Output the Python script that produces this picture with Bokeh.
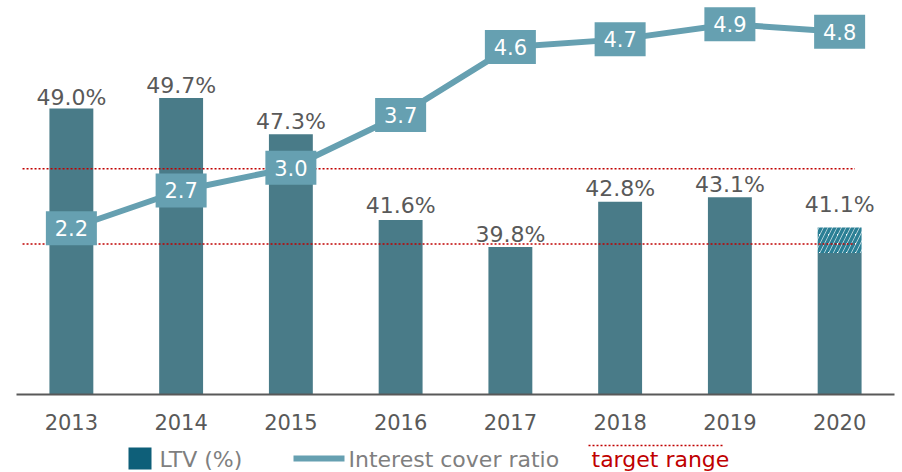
from bokeh.plotting import figure
from bokeh.models import ColumnDataSource, Range1d, FixedTicker
from bokeh.layouts import column
from bokeh.core.properties import value
from bokeh.embed import file_html
from bokeh.resources import INLINE

# ---- data ----
years = ["2013", "2014", "2015", "2016", "2017", "2018", "2019", "2020"]
ltv = [49.0, 49.7, 47.3, 41.6, 39.8, 42.8, 43.1, 41.1]          # LTV (%) labels / bar totals
ltv_solid = [49.0, 49.7, 47.3, 41.6, 39.8, 42.8, 43.1, 39.4]    # solid part of the bars
icr = [2.2, 2.7, 3.0, 3.7, 4.6, 4.7, 4.9, 4.8]                  # interest cover ratio
target_range = [40.0, 45.0]

FONT = value("DejaVu Sans")
BAR = "#497b88"
LINE = "#66a0b1"
GREY = "#595959"
RED = "#c00000"

idx = list(range(len(years)))
src = ColumnDataSource(dict(
    x=idx, ltv=ltv, solid=ltv_solid, icr=icr,
    ltv_lbl=[f"{v:.1f}%" for v in ltv],
    icr_lbl=[f"{v:.1f}" for v in icr],
    lbl_off=[-11, -13, -13, -14, -13, -13, -13, -23],
))

FH = 394
p = figure(frame_width=878, frame_height=FH, output_backend="svg",
           toolbar_location=None, x_range=Range1d(-0.5, 7.5),
           y_range=Range1d(30, 30 + FH / 15.05),
           min_border_left=16, min_border_right=8, min_border_top=0,
           min_border_bottom=42)
p.extra_y_ranges = {"icr": Range1d(0, FH / 75.56)}
p.outline_line_color = None
p.xgrid.visible = False
p.ygrid.visible = False
p.yaxis.visible = False
p.background_fill_color = "white"

xa = p.xaxis[0]
xa.ticker = FixedTicker(ticks=idx)
xa.major_label_overrides = {i: y for i, y in zip(idx, years)}
xa.axis_line_color = GREY
xa.axis_line_width = 2
xa.major_tick_line_color = None
xa.minor_tick_line_color = None
xa.major_label_text_font = "DejaVu Sans"
xa.major_label_text_font_size = "21px"
xa.major_label_text_color = GREY
xa.major_label_standoff = 13

# bars
p.vbar(x="x", bottom=30, top="solid", width=0.4, source=src,
       fill_color=BAR, line_color=None)
# hatched (2020 extra)
hsrc = ColumnDataSource(dict(x=[idx[-1]], b=[ltv_solid[-1]], t=[ltv[-1]]))
p.vbar(x="x", bottom="b", top="t", width=0.4, source=hsrc,
       fill_color="white", line_color=None, hatch_pattern="/",
       hatch_color="#2b7f95", hatch_weight=3.5, hatch_scale=9)

# ICR line
p.line(x="x", y="icr", source=src, y_range_name="icr",
       line_color=LINE, line_width=6)

# target range lines
for t in target_range:
    p.line(x=[-0.445, 7.14], y=[t, t], line_color=RED, line_width=1.5,
           line_dash="2 2")

# ICR boxes + labels
p.rect(x="x", y="icr", width=51, height=34, width_units="screen",
       height_units="screen", source=src, y_range_name="icr",
       fill_color=LINE, line_color=None)
p.text(x="x", y="icr", text="icr_lbl", source=src, y_range_name="icr",
       text_font=FONT, text_font_size="21px", text_color="white",
       text_align="center", text_baseline="middle")

# LTV labels
p.text(x="x", y="ltv", text="ltv_lbl", source=src, y_offset="lbl_off",
       text_font=FONT, text_font_size="22px", text_color=GREY,
       text_align="center", text_baseline="middle")

# ---- legend strip (frame aligned with main plot frame: x 16..894) ----
lg = figure(frame_width=878, frame_height=36, output_backend="svg",
            toolbar_location=None,
            x_range=Range1d(16, 894), y_range=Range1d(472, 436),
            min_border=0, min_border_left=16, min_border_right=8,
            min_border_top=0, min_border_bottom=0)
lg.axis.visible = False
lg.grid.visible = False
lg.outline_line_color = None

lg.quad(left=[128], right=[151], top=[447], bottom=[469],
        fill_color="#0e5f79", line_color=None)
lg.text(x=[159], y=[459], text=["LTV (%)"], text_font=FONT,
        text_font_size="22px", text_color="#7f7f7f", text_baseline="middle")
lg.line(x=[293, 344], y=[458, 458], line_color=LINE, line_width=6)
lg.text(x=[348], y=[459], text=["Interest cover ratio"], text_font=FONT,
        text_font_size="22px", text_color="#7f7f7f", text_baseline="middle")
lg.line(x=[588, 724], y=[445, 445], line_color=RED, line_width=1.5,
        line_dash="2 2")
lg.text(x=[591], y=[459], text=["target range"], text_font=FONT,
        text_font_size="22px", text_color=RED, text_baseline="middle")

layout = column(p, lg, spacing=0)
open("out.html", "w").write(file_html(layout, INLINE))
